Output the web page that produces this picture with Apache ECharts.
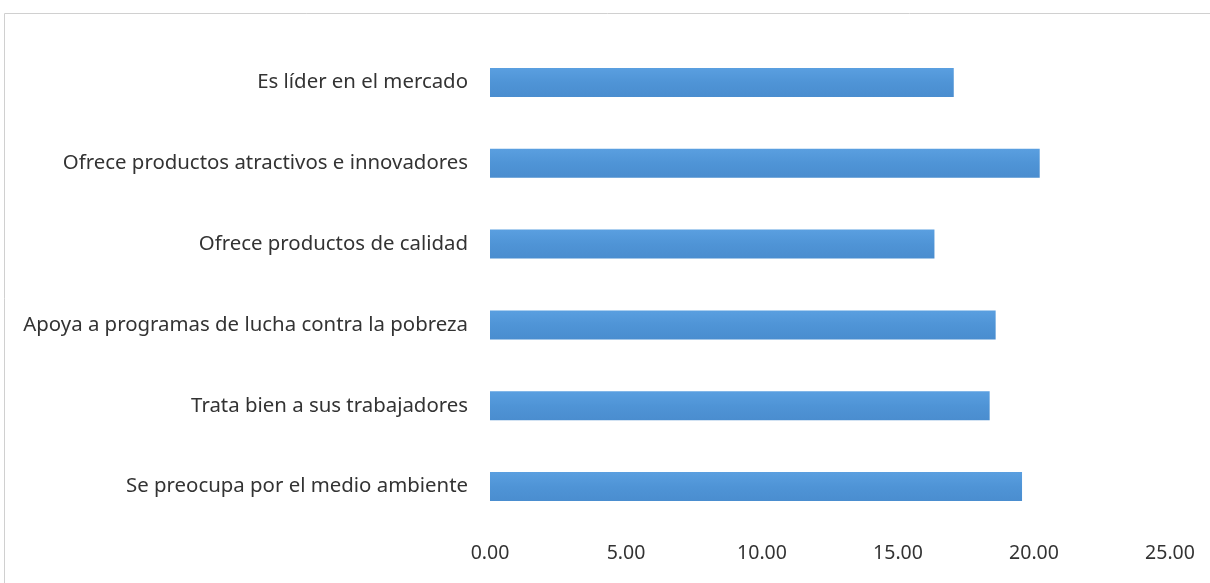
<!DOCTYPE html>
<html><head><meta charset="utf-8">
<script src="https://cdn.jsdelivr.net/npm/echarts@6/dist/echarts.min.js"></script>
<style>html,body{margin:0;padding:0;background:#fff}#c{width:1210px;height:583px}</style>
</head><body><div id="c"></div>
<script>
const categories = [
  "Se preocupa por el medio ambiente",
  "Trata bien a sus trabajadores",
  "Apoya a programas de lucha contra la pobreza",
  "Ofrece productos de calidad",
  "Ofrece productos atractivos e innovadores",
  "Es líder en el mercado"
];
const values = [19.56, 18.37, 18.59, 16.34, 20.21, 17.05];
const xTicks = [0, 5, 10, 15, 20, 25];

const chart = echarts.init(document.getElementById('c'));
chart.setOption({
  animation: false,
  graphic: [{
    type: 'rect', shape: {x: 4.5, y: 13.5, width: 1220, height: 600},
    style: {fill: 'none', stroke: '#d0d0d0', lineWidth: 1}, silent: true
  }],
  grid: {left: 490, right: 40, top: 42, bottom: 56},
  xAxis: {
    type: 'value', min: xTicks[0], max: xTicks[xTicks.length - 1], interval: 5,
    axisLine: {show: false}, axisTick: {show: false}, splitLine: {show: false},
    axisLabel: {formatter: v => v.toFixed(2), color: '#333333', fontSize: 19.5,
      fontFamily: 'Noto Sans', margin: 16}
  },
  yAxis: {
    type: 'category', data: categories,
    axisLine: {show: false}, axisTick: {show: false},
    axisLabel: {color: '#333333', fontSize: 20.4, fontFamily: 'Noto Sans', margin: 22}
  },
  series: [{
    type: 'bar', data: values, barWidth: 29,
    itemStyle: {color: new echarts.graphic.LinearGradient(0, 0, 0, 1, [
      {offset: 0, color: '#5a9fe0'}, {offset: 0.5, color: '#4f94d6'}, {offset: 1, color: '#4a8dcf'}
    ])}
  }]
});
</script></body></html>
